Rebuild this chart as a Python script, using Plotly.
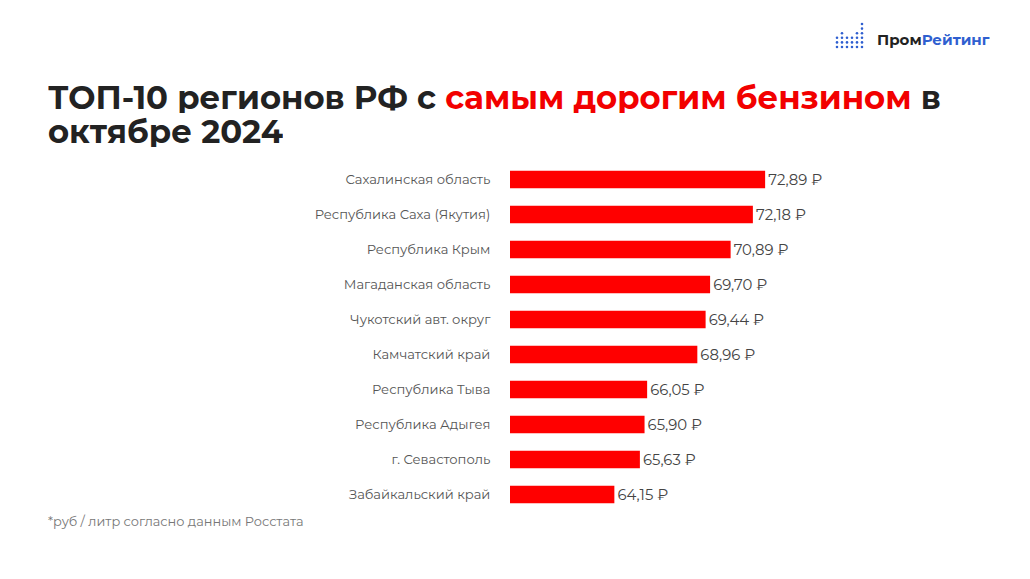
import plotly.graph_objects as go

# data (top to bottom)
regions = [
    "Сахалинская область",
    "Республика Саха (Якутия)",
    "Республика Крым",
    "Магаданская область",
    "Чукотский авт. округ",
    "Камчатский край",
    "Республика Тыва",
    "Республика Адыгея",
    "г. Севастополь",
    "Забайкальский край",
]
prices = [72.89, 72.18, 70.89, 69.70, 69.44, 68.96, 66.05, 65.90, 65.63, 64.15]

FONT = "Montserrat, Inter, 'Open Sans', sans-serif"
RED = "#ff0000"
BLUE = "#2f5fd0"

# plot area in screen pixels (page body adds 8px offset)
PL, PR, PT, PB = 510, 870, 162, 512


def px_x(x):
    return (x - PL) / (PR - PL)


def px_y(y):
    return (PB - y) / (PB - PT)


fig = go.Figure()
fig.add_trace(go.Bar(
    x=prices,
    y=regions,
    orientation="h",
    marker=dict(color=RED, line=dict(width=0)),
    texttemplate="%{x:.2f} ₽",
    textposition="outside",
    textfont=dict(size=17, color="#444444", family=FONT),
    cliponaxis=False,
    hoverinfo="skip",
))

fig.update_layout(
    width=1030,
    height=579,
    paper_bgcolor="white",
    plot_bgcolor="white",
    separators=", ",
    showlegend=False,
    bargap=0.5,
    margin=dict(l=PL - 8, r=1030 - PR + 8, t=PT - 8, b=579 - PB + 8),
    font=dict(family=FONT),
    xaxis=dict(range=[58.1, 58.1 + 360 / 17.25], visible=False, fixedrange=True),
    yaxis=dict(
        autorange="reversed",
        showgrid=False, zeroline=False, showline=False,
        ticks="outside", ticklen=16, tickcolor="rgba(0,0,0,0)",
        tickfont=dict(size=13.1, color="#555555", family=FONT),
    ),
)

# title, two lines (fixed box height so the lines sit tight)
fig.add_annotation(
    text="<b>ТОП-10 регионов РФ с <span style='color:#f20000'>самым дорогим бензином</span> в</b>",
    xref="paper", yref="paper", x=px_x(46), y=px_y(97), height=32,
    xanchor="left", yanchor="middle", showarrow=False,
    font=dict(size=32.3, color="#222222", family=FONT),
)
fig.add_annotation(
    text="<b>октябре 2024</b>",
    xref="paper", yref="paper", x=px_x(46), y=px_y(131), height=32,
    xanchor="left", yanchor="middle", showarrow=False,
    font=dict(size=32.3, color="#222222", family=FONT),
)

# footnote
fig.add_annotation(
    text="*руб / литр согласно данным Росстата",
    xref="paper", yref="paper", x=px_x(46), y=px_y(521),
    xanchor="left", yanchor="middle", showarrow=False,
    font=dict(size=12.9, color="#777777", family=FONT),
)

# logo: dotted bar icon + brand name
logo_cols = [3, 4, 3, 3, 4, 6]
for i, n in enumerate(logo_cols):
    cx = 837 + i * 5
    for j in range(n):
        cy = 47 - j * 4.6
        fig.add_shape(
            type="circle", xref="paper", yref="paper", layer="above",
            x0=px_x(cx - 1.3), x1=px_x(cx + 1.3),
            y0=px_y(cy + 1.3), y1=px_y(cy - 1.3),
            fillcolor=BLUE, line=dict(width=0),
        )
fig.add_annotation(
    text="<b>Пром<span style='color:%s'>Рейтинг</span></b>" % BLUE,
    xref="paper", yref="paper", x=px_x(875), y=px_y(39),
    xanchor="left", yanchor="middle", showarrow=False,
    font=dict(size=15, color="#222222", family=FONT),
)

fig.write_html("out.html")
